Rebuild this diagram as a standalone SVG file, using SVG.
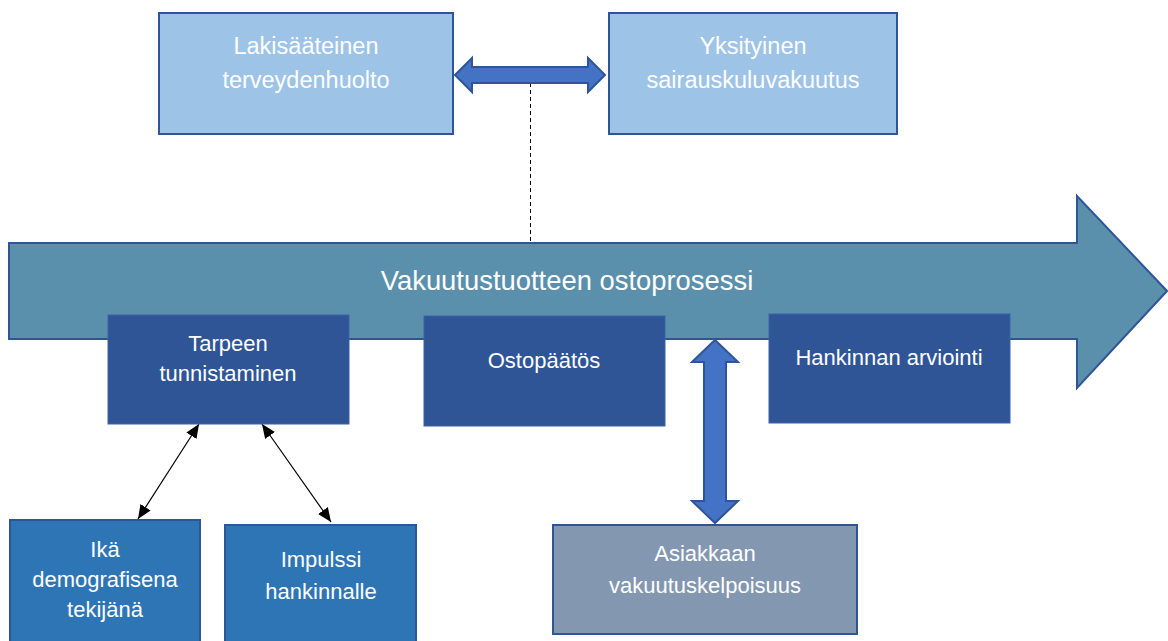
<svg xmlns="http://www.w3.org/2000/svg" width="1168" height="641" viewBox="0 0 1168 641">
<style>
.t{font-family:"Liberation Sans",Arial,sans-serif;font-size:22px;fill:#ffffff;text-anchor:middle}
.tt{font-size:23.5px}
.top{fill:#9DC3E6;stroke:#2F5597;stroke-width:2}
.proc{fill:#2F5597;stroke:#3A62A8;stroke-width:1}
.fac{fill:#2E75B6;stroke:#2F5597;stroke-width:2}
.dbl{fill:#4472C4;stroke:#2F5597;stroke-width:2}
.thin{stroke:#000;stroke-width:1.2;fill:none}
</style>
<defs>
<marker id="ah" viewBox="0 0 14 12" refX="14" refY="6" markerWidth="14" markerHeight="12" markerUnits="userSpaceOnUse" orient="auto-start-reverse">
<path d="M0,0 L14,6 L0,12 z" fill="#000"/>
</marker>
</defs>
<g id="process-arrow">
<path d="M9,243 L1077,243 L1077,196 L1167,291 L1077,388 L1077,339 L9,339 Z" fill="#5B90AC" stroke="#2F5597" stroke-width="2"/>
<text class="t" x="567" y="290" style="font-size:27.4px">Vakuutustuotteen ostoprosessi</text>
</g>
<g id="connectors">
<line x1="530.5" y1="83" x2="530.5" y2="243" stroke="#000" stroke-width="1" stroke-dasharray="4 3"/>
<path class="dbl" d="M455,75 L472,58 L472,67 L588,67 L588,58 L605,75 L588,92 L588,83 L472,83 L472,92 Z"/>
<path class="dbl" d="M715,340 L738,362 L726,362 L726,501 L738,501 L715,523 L692,501 L704,501 L704,362 L692,362 Z"/>
<line class="thin" x1="199" y1="424" x2="138" y2="519" marker-start="url(#ah)" marker-end="url(#ah)"/>
<line class="thin" x1="262" y1="424" x2="331" y2="522" marker-start="url(#ah)" marker-end="url(#ah)"/>
</g>
<g id="lakisaateinen">
<rect class="top" x="159" y="13" width="294" height="121"/>
<text class="t tt" x="306" y="54">Lakisääteinen</text>
<text class="t tt" x="306" y="88">terveydenhuolto</text>
</g>
<g id="yksityinen">
<rect class="top" x="609" y="13" width="288" height="121"/>
<text class="t tt" x="753" y="54">Yksityinen</text>
<text class="t tt" x="753" y="88">sairauskuluvakuutus</text>
</g>
<g id="tarpeen">
<rect class="proc" x="108" y="315" width="241" height="109"/>
<text class="t" x="228" y="351">Tarpeen</text>
<text class="t" x="228" y="381">tunnistaminen</text>
</g>
<g id="ostopaatos">
<rect class="proc" x="424" y="316" width="241" height="110"/>
<text class="t" x="544" y="368">Ostopäätös</text>
</g>
<g id="hankinnan">
<rect class="proc" x="769" y="314" width="241" height="109"/>
<text class="t" x="889" y="365">Hankinnan arviointi</text>
</g>
<g id="ika">
<rect class="fac" x="10" y="520" width="190" height="130"/>
<text class="t" x="105" y="557">Ikä</text>
<text class="t" x="105" y="587">demografisena</text>
<text class="t" x="105" y="617">tekijänä</text>
</g>
<g id="impulssi">
<rect class="fac" x="225" y="525" width="191" height="125"/>
<text class="t" x="321" y="567">Impulssi</text>
<text class="t" x="321" y="599">hankinnalle</text>
</g>
<g id="asiakkaan">
<rect x="553" y="525" width="304" height="109" fill="#8497B0" stroke="#2F5597" stroke-width="2"/>
<text class="t" x="705" y="561">Asiakkaan</text>
<text class="t" x="705" y="593">vakuutuskelpoisuus</text>
</g>
</svg>
